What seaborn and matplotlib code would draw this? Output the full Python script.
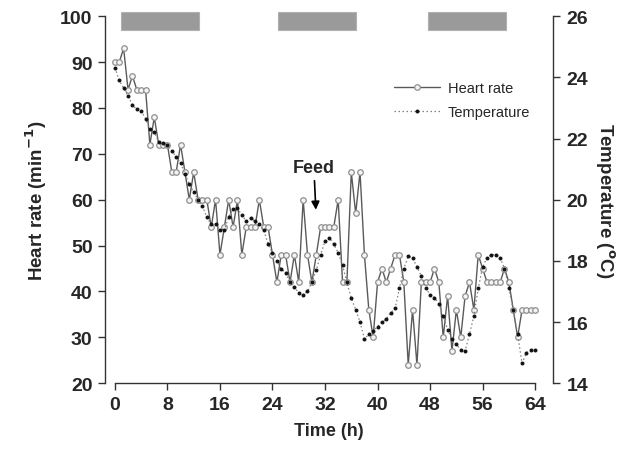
import matplotlib
matplotlib.use("Agg")
import matplotlib.pyplot as plt
import matplotlib.patches as mpatches
import seaborn as sns

# ---- data ----
hours = [0, 0.67, 1.33, 2, 2.67, 3.33, 4, 4.67, 5.33, 6, 6.67, 7.33, 8, 8.67, 9.33, 10,
         10.67, 11.33, 12, 12.67, 13.33, 14, 14.67, 15.33, 16, 16.67, 17.33, 18, 18.67,
         19.33, 20, 20.67, 21.33, 22, 22.67, 23.33, 24, 24.67, 25.33, 26, 26.67, 27.33,
         28, 28.67, 29.33, 30, 30.67, 31.33, 32, 32.67, 33.33, 34, 34.67, 35.33, 36,
         36.67, 37.33, 38, 38.67, 39.33, 40, 40.67, 41.33, 42, 42.67, 43.33, 44, 44.67,
         45.33, 46, 46.67, 47.33, 48, 48.67, 49.33, 50, 50.67, 51.33, 52, 52.67, 53.33,
         54, 54.67, 55.33, 56, 56.67, 57.33, 58, 58.67, 59.33, 60, 60.67, 61.33, 62,
         62.67, 63.33, 64]

heart_rate = [90, 90, 93, 84, 87, 84, 84, 84, 72, 78, 72, 72, 72, 66, 66, 72,
              66, 60, 66, 60, 60, 60, 54, 60, 48, 54, 60, 54, 60, 48, 54, 54,
              54, 60, 54, 54, 48, 42, 48, 48, 42, 48, 42, 60, 48, 42, 48, 54,
              54, 54, 54, 60, 42, 42, 66, 57, 66, 48, 36, 30, 42, 45, 42, 45,
              48, 48, 42, 24, 36, 24, 42, 42, 42, 45, 42, 30, 39, 27, 36, 30,
              39, 42, 36, 48, 45, 42, 42, 42, 42, 45, 42, 36, 30, 36, 36, 36, 36]

temperature = [24.32, 23.9, 23.65, 23.4, 23.1, 22.95, 22.9, 22.65, 22.3, 22.2, 21.9,
               21.85, 21.78, 21.6, 21.4, 21.2, 20.85, 20.5, 20.25, 20.0, 19.8, 19.42,
               19.2, 19.2, 19.0, 19.0, 19.45, 19.7, 19.72, 19.5, 19.3, 19.4, 19.3,
               19.2, 19.0, 18.55, 18.25, 18.0, 17.75, 17.6, 17.3, 17.13, 16.96, 16.88,
               17.0, 17.3, 17.7, 18.2, 18.65, 18.76, 18.54, 18.27, 17.85, 17.3, 16.78,
               16.4, 16.0, 15.45, 15.6, 15.7, 15.85, 16.0, 16.1, 16.3, 16.45, 17.1,
               17.75, 18.15, 18.1, 17.8, 17.5, 17.1, 16.9, 16.8, 16.6, 16.2, 15.75,
               15.44, 15.27, 15.1, 15.05, 15.6, 16.2, 17.1, 17.8, 18.1, 18.2, 18.2,
               18.1, 17.75, 17.1, 16.4, 15.6, 14.65, 15.0, 15.08, 15.08]

dark_start = [1.0, 24.8, 47.7]
dark_end = [12.8, 36.7, 59.5]

x_ticks = [0, 8, 16, 24, 32, 40, 48, 56, 64]
hr_ticks = [20, 30, 40, 50, 60, 70, 80, 90, 100]
temp_ticks = [14, 16, 18, 20, 22, 24, 26]

# ---- plot ----
sns.set_style("ticks")
plt.rcParams["font.family"] = ["Liberation Sans", "DejaVu Sans"]

fig = plt.figure(figsize=(6.29, 4.52), dpi=100)
ax = fig.add_axes([0.167, 0.150, 0.712, 0.812])
ax2 = ax.twinx()

sns.lineplot(x=hours, y=heart_rate, ax=ax, color="#5a5a5a", lw=1.0,
             marker="o", markersize=4.0, markerfacecolor="#f4f4f4",
             markeredgecolor="#8f8f8f", markeredgewidth=0.9, label="Heart rate",
             legend=False)
sns.lineplot(x=hours, y=temperature, ax=ax2, color="#808080", lw=0.9,
             linestyle=(0, (1.2, 2)), marker="o", markersize=2.1,
             markerfacecolor="#111111", markeredgecolor="#111111",
             label="Temperature", legend=False)

ax.set_xlim(-1.5, 66.7)
ax.set_ylim(20, 100)
ax2.set_ylim(14, 26)
ax.set_xticks(x_ticks)
ax.set_yticks(hr_ticks)
ax2.set_yticks(temp_ticks)

for a in (ax, ax2):
    a.spines["top"].set_visible(False)
    for s in a.spines.values():
        s.set_color("#333333")
        s.set_linewidth(1.0)
ax.spines["right"].set_visible(False)
ax2.spines["left"].set_visible(False)
ax2.spines["bottom"].set_visible(False)
ax.spines["bottom"].set_bounds(0, 64)

ax.tick_params(axis="both", direction="out", length=5, width=1, color="#333333",
               labelsize=14, pad=4)
ax2.tick_params(axis="y", direction="out", length=5, width=1, color="#333333",
                labelsize=14, pad=5)
for lab in ax.get_xticklabels() + ax.get_yticklabels() + ax2.get_yticklabels():
    lab.set_fontweight("bold")

ax.set_xlabel("Time (h)", fontsize=13, fontweight="bold", labelpad=7)
ax.set_ylabel("Heart rate (min$^{\\mathbf{-1}}$)", fontsize=13.5, fontweight="bold",
              labelpad=8)
ax2.set_ylabel("Temperature ($^{\\mathbf{o}}$C)", fontsize=13.5, fontweight="bold",
               rotation=270, labelpad=20)

# dark-period bars
for s, e in zip(dark_start, dark_end):
    ax.add_patch(mpatches.Rectangle((s, 97.0), e - s, 4.0, facecolor="#9a9a9a",
                                    edgecolor="#b0b0b0", lw=0.8, clip_on=False,
                                    zorder=5))

# Feed annotation
ax.annotate("Feed", xy=(30.6, 57.8), xytext=(30.3, 67.0), ha="center", va="center",
            fontsize=13, fontweight="bold",
            arrowprops=dict(arrowstyle="-|>", color="black", lw=1.2,
                            shrinkA=1, shrinkB=0, mutation_scale=12))

h1 = ax.get_lines()[0]
h2 = ax2.get_lines()[0]
ax2.legend([h1, h2], ["Heart rate", "Temperature"], loc="upper left",
           bbox_to_anchor=(0.615, 0.86), frameon=False, fontsize=10.5,
           handlelength=3.2, handletextpad=0.5, labelspacing=0.7)

fig.savefig("out.png", dpi=100)
